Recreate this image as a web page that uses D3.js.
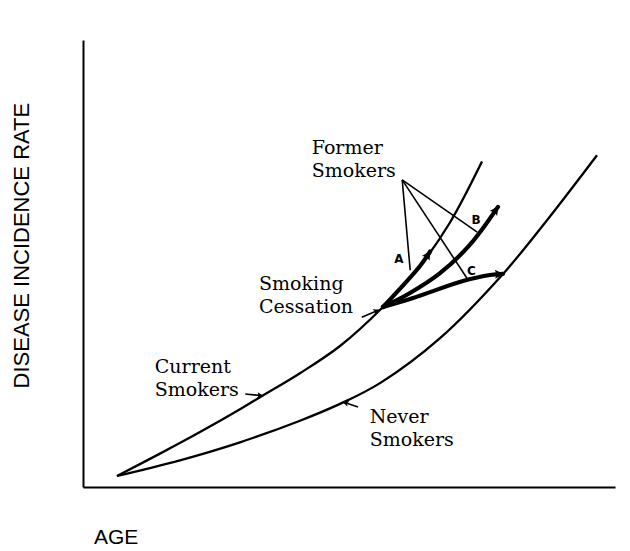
<!DOCTYPE html>
<html>
<head>
<meta charset="utf-8">
<script src="https://cdnjs.cloudflare.com/ajax/libs/d3/7.8.5/d3.min.js"></script>
<style>
	body { margin: 0; background: #fff; }
	.serifLabel { font-family: "DejaVu Serif", "Liberation Serif", serif; font-size: 19px; fill: #000; }
	.sansLabel { font-family: "Liberation Sans", Arial, sans-serif; font-size: 22px; fill: #000; }
	.branchLetter { font-family: "DejaVu Sans", sans-serif; font-weight: bold; font-size: 12px; fill: #000; }
</style>
</head>
<body>
<div id="chart"></div>
<script>

///////////////////////////////////////////////////////////////////////////
///////////////////////////////// Data ////////////////////////////////////
///////////////////////////////////////////////////////////////////////////

//[age, incidence] on a 0-100 schematic scale
var currentSmokers = [[6.39,2.46],[14.47,7.47],[21.99,12.30],[29.51,17.40],[33.65,20.36],[40.79,25.46],
	[48.31,31.54],[56.39,40.27],[63.35,49.44],[68.98,59.17],[75.0,72.80]];
var neverSmokers = [[6.39,2.46],[18.23,5.97],[29.51,10.0],[40.79,14.83],[48.31,18.59],
	[55.83,23.24],[67.11,33.31],[78.95,47.67],[87.22,59.69],[96.62,74.23]];

//Former smokers, three paths after cessation
var formerA = [[56.39,40.27],[63.35,49.44],[65.23,52.68]];
var formerB = [[56.39,40.27],[61.47,43.4],[67.11,47.83],[72.74,54.21],[78.0,62.67]];
var formerC = [[56.39,40.27],[62.03,42.28],[71.43,46.08],[76.50,47.43],[78.95,47.67]];

//Pointer lines from the "Former Smokers" label to the branches
var pointerFrom = [60.0, 68.7];
var pointerTo = [[61.5,48.5],[74.1,57.0],[72.4,46.3]];
var branchLetters = ["A", "B", "C"];
var branchLetterAt = [[59.4,51.0],[73.9,59.8],[73.0,48.3]];

//Curve labels and small arrows pointing to the curves
var labelLines = [["Former", "Smokers"], ["Smoking", "Cessation"], ["Current", "Smokers"], ["Never", "Smokers"]];
var labelAt = [[43.0,74.5],[33.1,44.1],[13.5,25.5],[53.9,14.3]];
var labelArrows = [
	[[52.4,38.0],[55.6,39.6]],
	[[30.5,20.8],[33.8,20.4]],
	[[51.7,17.9],[48.9,19.0]]
];

var xTitle = "AGE";
var yTitle = "DISEASE INCIDENCE RATE";

///////////////////////////////////////////////////////////////////////////
//////////////////// Set up and initiate svg container ////////////////////
///////////////////////////////////////////////////////////////////////////

var width = 630,
	height = 551;

var svg = d3.select("#chart").append("svg")
	.attr("width", width)
	.attr("height", height);

var x = d3.scaleLinear().domain([0, 100]).range([83, 615]);
var y = d3.scaleLinear().domain([0, 100]).range([487, 40]);

var defs = svg.append("defs");
function addMarker(id, w, h) {
	defs.append("marker")
		.attr("id", id)
		.attr("viewBox", "0 0 10 10")
		.attr("refX", 9)
		.attr("refY", 5)
		.attr("markerUnits", "userSpaceOnUse")
		.attr("markerWidth", w)
		.attr("markerHeight", h)
		.attr("orient", "auto")
		.append("path")
		.attr("d", "M0,0 L10,5 L0,10 L2,5 z")
		.style("fill", "#000");
}
addMarker("bigArrow", 17, 9);
addMarker("smallArrow", 8, 6);

///////////////////////////////////////////////////////////////////////////
////////////////////////////////// Axes ///////////////////////////////////
///////////////////////////////////////////////////////////////////////////

svg.append("g")
	.attr("transform", "translate(0," + y(0) + ")")
	.call(d3.axisBottom(x).tickValues([]).tickSizeOuter(0));
svg.append("g")
	.attr("transform", "translate(" + x(0) + ",0)")
	.call(d3.axisLeft(y).tickValues([]).tickSizeOuter(0));
svg.selectAll(".domain")
	.style("stroke", "#000")
	.style("stroke-width", 2);

svg.append("text")
	.attr("class", "sansLabel")
	.attr("x", 94)
	.attr("y", 544)
	.style("font-size", "21px")
	.text(xTitle);

svg.append("text")
	.attr("class", "sansLabel")
	.attr("text-anchor", "middle")
	.attr("transform", "translate(29," + y(54) + ") rotate(-90)")
	.text(yTitle);

///////////////////////////////////////////////////////////////////////////
///////////////////////////////// Curves //////////////////////////////////
///////////////////////////////////////////////////////////////////////////

var line = d3.line()
	.x(function(d) { return x(d[0]); })
	.y(function(d) { return y(d[1]); })
	.curve(d3.curveCatmullRom.alpha(0.5));

[currentSmokers, neverSmokers].forEach(function(d) {
	svg.append("path")
		.attr("d", line(d))
		.style("fill", "none")
		.style("stroke", "#000")
		.style("stroke-width", 2.3);
});

[formerA, formerB, formerC].forEach(function(d) {
	svg.append("path")
		.attr("d", line(d))
		.attr("marker-end", "url(#bigArrow)")
		.style("fill", "none")
		.style("stroke", "#000")
		.style("stroke-width", 4.2)
		.style("stroke-linecap", "round");
});

//Pointer lines
svg.selectAll(".pointer")
	.data(pointerTo)
	.enter().append("line")
	.attr("class", "pointer")
	.attr("x1", x(pointerFrom[0]))
	.attr("y1", y(pointerFrom[1]))
	.attr("x2", function(d) { return x(d[0]); })
	.attr("y2", function(d) { return y(d[1]); })
	.style("stroke", "#000")
	.style("stroke-width", 1.6);

svg.selectAll(".branchLetter")
	.data(branchLetters)
	.enter().append("text")
	.attr("class", "branchLetter")
	.attr("text-anchor", "middle")
	.attr("x", function(d, i) { return x(branchLetterAt[i][0]); })
	.attr("y", function(d, i) { return y(branchLetterAt[i][1]) + 4; })
	.text(function(d) { return d; });

///////////////////////////////////////////////////////////////////////////
///////////////////////////////// Labels //////////////////////////////////
///////////////////////////////////////////////////////////////////////////

labelLines.forEach(function(lines, i) {
	var t = svg.append("text")
		.attr("class", "serifLabel")
		.attr("x", x(labelAt[i][0]))
		.attr("y", y(labelAt[i][1]));
	lines.forEach(function(l, j) {
		t.append("tspan")
			.attr("x", x(labelAt[i][0]))
			.attr("dy", j === 0 ? 0 : 23)
			.text(l);
	});
});

svg.selectAll(".labelArrow")
	.data(labelArrows)
	.enter().append("path")
	.attr("class", "labelArrow")
	.attr("d", function(d) { return d3.line().x(function(p) { return x(p[0]); }).y(function(p) { return y(p[1]); })(d); })
	.attr("marker-end", "url(#smallArrow)")
	.style("fill", "none")
	.style("stroke", "#000")
	.style("stroke-width", 1.6);

</script>
</body>
</html>
